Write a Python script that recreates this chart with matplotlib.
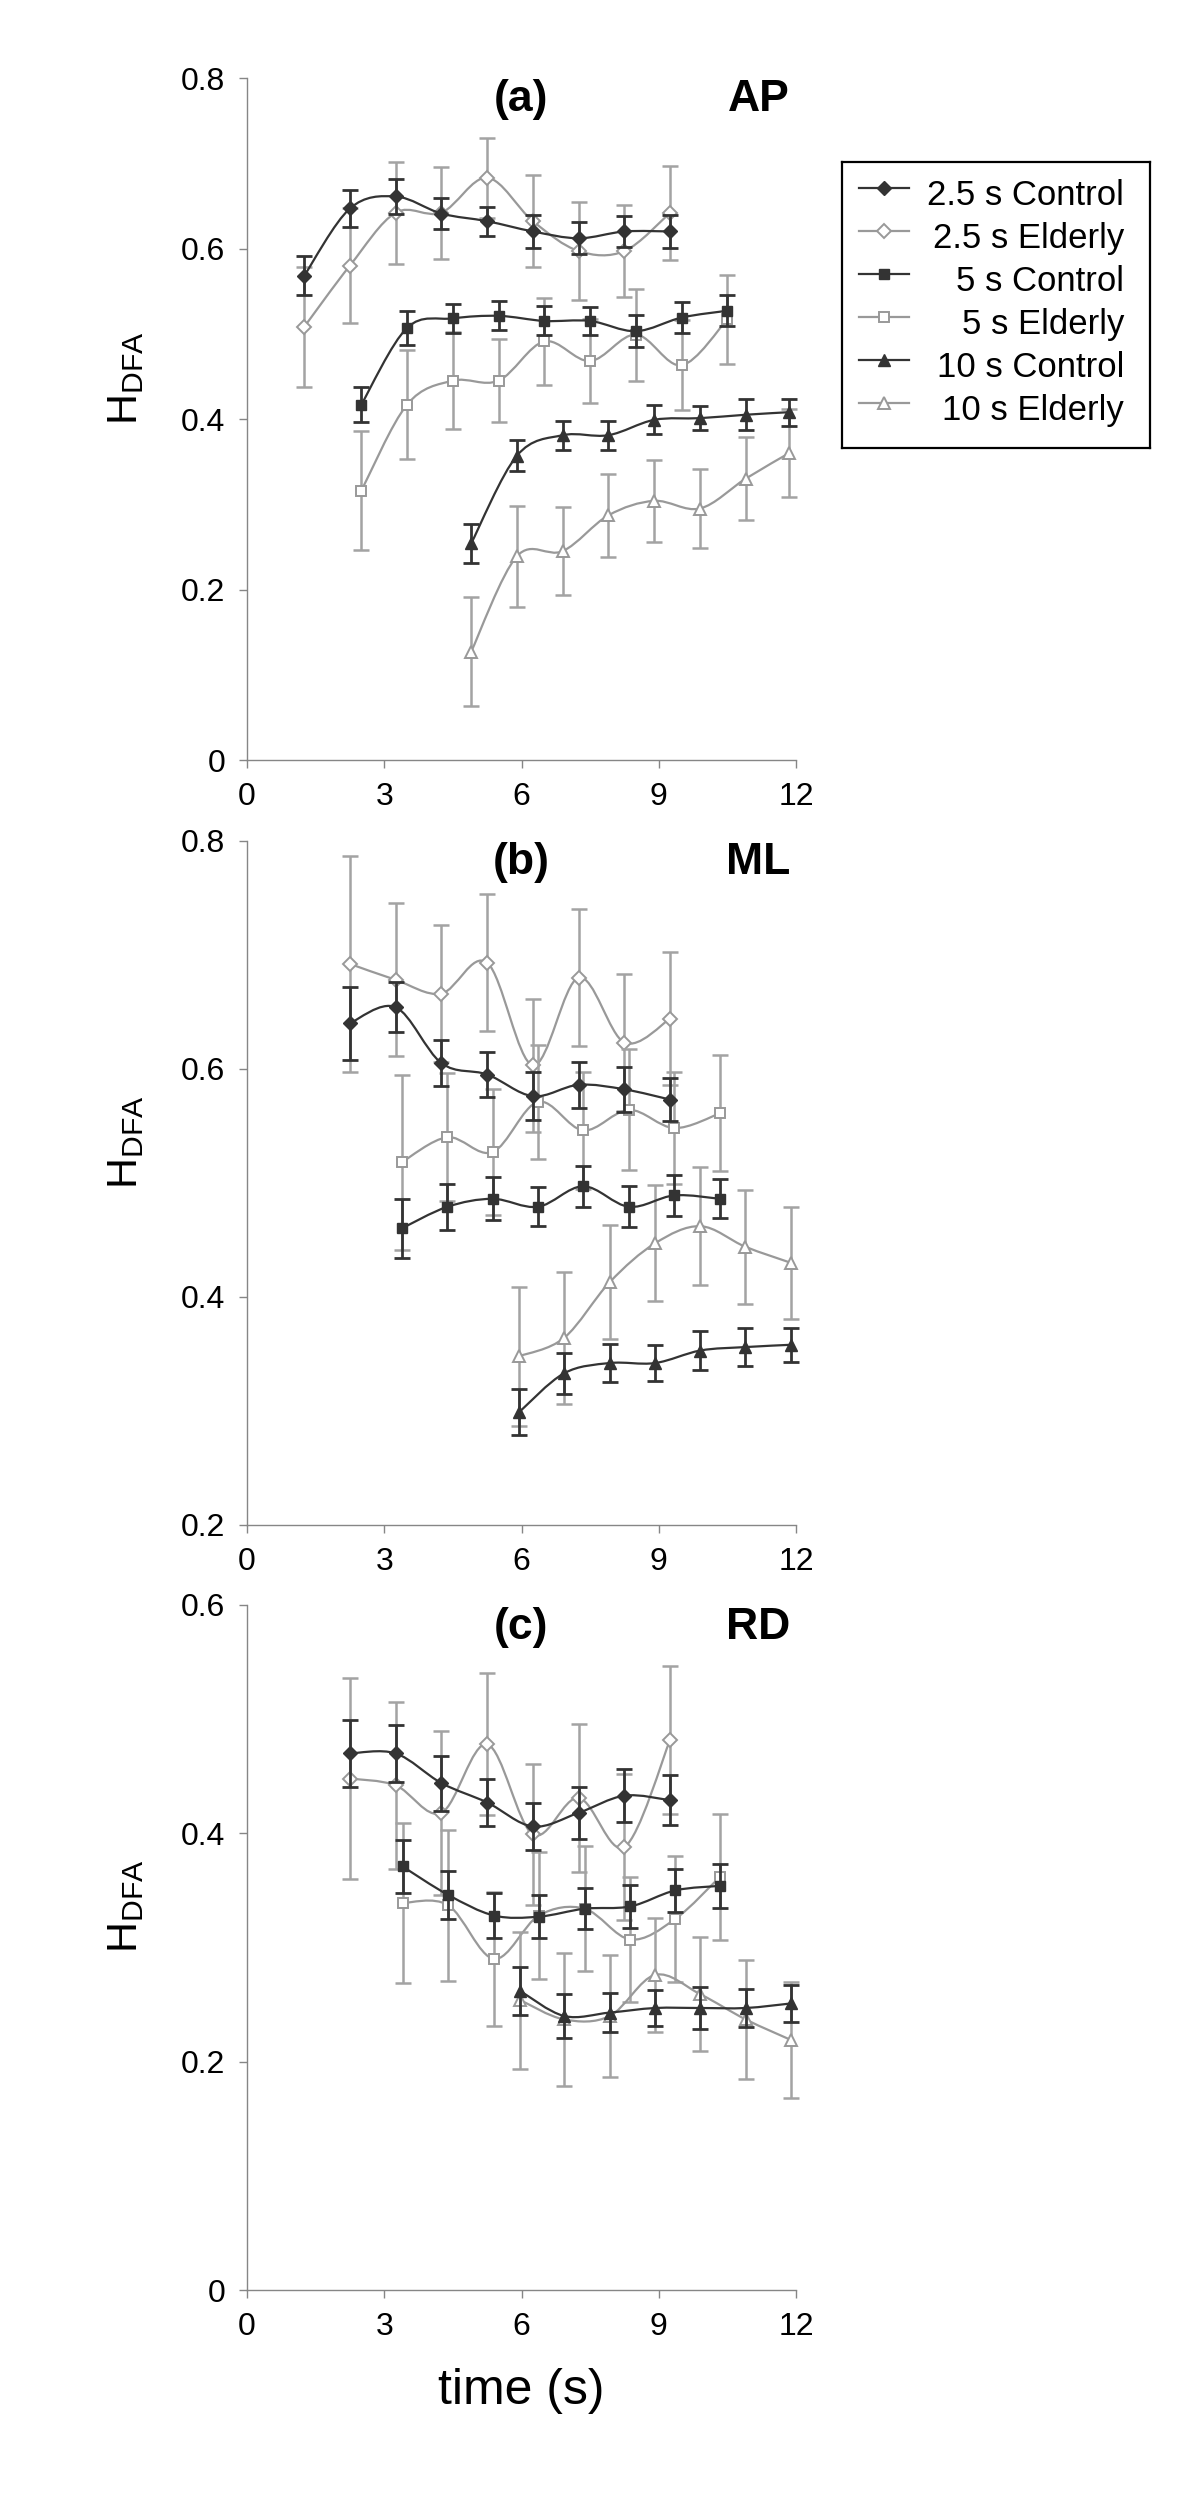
import numpy as np
import matplotlib
matplotlib.use("Agg")
import matplotlib.pyplot as plt
from matplotlib.path import Path
from matplotlib.patches import PathPatch

plt.rcParams['font.family'] = ['Liberation Sans', 'DejaVu Sans']
plt.rcParams['mathtext.fontset'] = 'custom'
plt.rcParams['mathtext.rm'] = 'Liberation Sans'

# ---------------- data ----------------
series_labels = ["2.5 s Control", "2.5 s Elderly", "5 s Control", "5 s Elderly",
                 "10 s Control", "10 s Elderly"]
panel_tags = ["(a)", "(b)", "(c)"]
panel_dirs = ["AP", "ML", "RD"]
x_ticks = [0, 3, 6, 9, 12]
x_ticklabels = ["0", "3", "6", "9", "12"]
a_yticks = [0, 0.2, 0.4, 0.6, 0.8]
a_yticklabels = ["0", "0.2", "0.4", "0.6", "0.8"]
b_yticks = [0.2, 0.4, 0.6, 0.8]
b_yticklabels = ["0.2", "0.4", "0.6", "0.8"]
c_yticks = [0, 0.2, 0.4, 0.6]
c_yticklabels = ["0", "0.2", "0.4", "0.6"]

# Panel (a) AP
a_x25 = [1.25, 2.25, 3.25, 4.25, 5.25, 6.25, 7.25, 8.25, 9.25]
a_c25 = [0.568, 0.647, 0.661, 0.641, 0.632, 0.620, 0.612, 0.620, 0.620]
a_c25_err = [0.023, 0.022, 0.020, 0.018, 0.017, 0.019, 0.019, 0.018, 0.019]
a_e25 = [0.508, 0.580, 0.642, 0.642, 0.683, 0.632, 0.597, 0.597, 0.642]
a_e25_err = [0.070, 0.067, 0.060, 0.054, 0.047, 0.054, 0.057, 0.054, 0.055]
a_x5 = [2.5, 3.5, 4.5, 5.5, 6.5, 7.5, 8.5, 9.5, 10.5]
a_c5 = [0.417, 0.507, 0.518, 0.521, 0.515, 0.515, 0.503, 0.519, 0.527]
a_c5_err = [0.021, 0.020, 0.017, 0.017, 0.017, 0.016, 0.019, 0.018, 0.018]
a_e5 = [0.316, 0.417, 0.445, 0.445, 0.491, 0.468, 0.499, 0.463, 0.517]
a_e5_err = [0.070, 0.064, 0.057, 0.049, 0.051, 0.049, 0.054, 0.053, 0.052]
a_x10 = [4.9, 5.9, 6.9, 7.9, 8.9, 9.9, 10.9, 11.85]
a_c10 = [0.254, 0.357, 0.381, 0.381, 0.399, 0.401, 0.405, 0.408]
a_c10_err = [0.023, 0.018, 0.017, 0.017, 0.017, 0.014, 0.018, 0.016]
a_e10 = [0.127, 0.239, 0.245, 0.287, 0.304, 0.295, 0.330, 0.360]
a_e10_err = [0.064, 0.059, 0.052, 0.049, 0.048, 0.046, 0.049, 0.052]

# Panel (b) ML
b_x25 = [2.25, 3.25, 4.25, 5.25, 6.25, 7.25, 8.25, 9.25]
b_c25 = [0.640, 0.654, 0.605, 0.595, 0.576, 0.586, 0.582, 0.573]
b_c25_err = [0.032, 0.022, 0.020, 0.020, 0.021, 0.020, 0.020, 0.019]
b_e25 = [0.692, 0.678, 0.666, 0.693, 0.603, 0.680, 0.623, 0.644]
b_e25_err = [0.095, 0.067, 0.060, 0.060, 0.058, 0.060, 0.060, 0.058]
b_x5 = [3.38, 4.38, 5.37, 6.36, 7.35, 8.35, 9.34, 10.34]
b_c5 = [0.460, 0.479, 0.486, 0.479, 0.497, 0.479, 0.489, 0.486]
b_c5_err = [0.026, 0.020, 0.019, 0.017, 0.018, 0.018, 0.018, 0.017]
b_e5 = [0.518, 0.540, 0.527, 0.571, 0.546, 0.564, 0.548, 0.561]
b_e5_err = [0.077, 0.056, 0.055, 0.050, 0.051, 0.053, 0.049, 0.051]
b_x10 = [5.95, 6.93, 7.93, 8.92, 9.91, 10.89, 11.88]
b_c10 = [0.299, 0.333, 0.342, 0.342, 0.353, 0.356, 0.358]
b_c10_err = [0.020, 0.018, 0.017, 0.016, 0.017, 0.017, 0.015]
b_e10 = [0.348, 0.364, 0.413, 0.447, 0.462, 0.444, 0.430]
b_e10_err = [0.061, 0.058, 0.050, 0.051, 0.052, 0.050, 0.049]

# Panel (c) RD
c_x25 = [2.25, 3.25, 4.25, 5.25, 6.25, 7.25, 8.25, 9.25]
c_c25 = [0.470, 0.470, 0.444, 0.427, 0.406, 0.418, 0.433, 0.429]
c_c25_err = [0.029, 0.025, 0.024, 0.021, 0.021, 0.023, 0.023, 0.022]
c_e25 = [0.448, 0.442, 0.418, 0.478, 0.399, 0.431, 0.388, 0.482]
c_e25_err = [0.088, 0.073, 0.072, 0.062, 0.062, 0.065, 0.064, 0.065]
c_x5 = [3.4, 4.4, 5.4, 6.38, 7.38, 8.38, 9.36, 10.34]
c_c5 = [0.371, 0.346, 0.328, 0.327, 0.334, 0.336, 0.350, 0.354]
c_c5_err = [0.023, 0.021, 0.020, 0.019, 0.018, 0.019, 0.019, 0.019]
c_e5 = [0.339, 0.337, 0.290, 0.328, 0.334, 0.307, 0.325, 0.362]
c_e5_err = [0.070, 0.066, 0.059, 0.056, 0.055, 0.055, 0.055, 0.055]
c_x10 = [5.97, 6.93, 7.93, 8.92, 9.91, 10.9, 11.89]
c_c10 = [0.262, 0.240, 0.243, 0.247, 0.247, 0.247, 0.251]
c_c10_err = [0.021, 0.019, 0.017, 0.016, 0.018, 0.017, 0.016]
c_e10 = [0.254, 0.237, 0.240, 0.276, 0.259, 0.237, 0.219]
c_e10_err = [0.060, 0.058, 0.053, 0.050, 0.050, 0.052, 0.051]

# ---------------- styles ----------------
DARK = '#333333'
LIGHT = '#999999'
LIGHT_ERR = '#a3a3a3'
SPINE = '#868686'
markers = ['D', 'D', 's', 's', '^', '^']
msizes = [7, 7, 7.5, 7.5, 8.5, 8.5]
is_control = [True, False, True, False, True, False]

panels = [
    dict(ylim=(0, 0.8), yticks=a_yticks, ylabels=a_yticklabels,
         series=[(a_x25, a_c25, a_c25_err), (a_x25, a_e25, a_e25_err),
                 (a_x5, a_c5, a_c5_err), (a_x5, a_e5, a_e5_err),
                 (a_x10, a_c10, a_c10_err), (a_x10, a_e10, a_e10_err)]),
    dict(ylim=(0.2, 0.8), yticks=b_yticks, ylabels=b_yticklabels,
         series=[(b_x25, b_c25, b_c25_err), (b_x25, b_e25, b_e25_err),
                 (b_x5, b_c5, b_c5_err), (b_x5, b_e5, b_e5_err),
                 (b_x10, b_c10, b_c10_err), (b_x10, b_e10, b_e10_err)]),
    dict(ylim=(0, 0.6), yticks=c_yticks, ylabels=c_yticklabels,
         series=[(c_x25, c_c25, c_c25_err), (c_x25, c_e25, c_e25_err),
                 (c_x5, c_c5, c_c5_err), (c_x5, c_e5, c_e5_err),
                 (c_x10, c_c10, c_c10_err), (c_x10, c_e10, c_e10_err)]),
]


def smooth_path(x, y):
    pts = np.column_stack([x, y]).astype(float)
    n = len(pts)
    verts = [pts[0]]
    codes = [Path.MOVETO]
    for i in range(n - 1):
        p0 = pts[i - 1] if i > 0 else pts[i]
        p1 = pts[i]
        p2 = pts[i + 1]
        p3 = pts[i + 2] if i + 2 < n else pts[i + 1]
        verts += [p1 + (p2 - p0) / 6.0, p2 - (p3 - p1) / 6.0, p2]
        codes += [Path.CURVE4] * 3
    return Path(verts, codes)


W, H = 1200, 2500
fig = plt.figure(figsize=(12, 25), dpi=100)
ax_left = 247 / W
ax_w = 549 / W
tops = [78, 840.7, 1605]
bottoms = [760, 1525, 2290]

for k, p in enumerate(panels):
    ax = fig.add_axes([ax_left, 1 - bottoms[k] / H, ax_w, (bottoms[k] - tops[k]) / H])
    order = [1, 3, 5, 0, 2, 4]  # elderly underneath, controls on top
    for rank, i in enumerate(order):
        x, y, e = p['series'][i]
        ctrl = is_control[i]
        col = DARK if ctrl else LIGHT
        z = 2 + rank
        ax.errorbar(x, y, yerr=e, fmt='none', ecolor=DARK if ctrl else LIGHT_ERR,
                    elinewidth=2.0 if ctrl else 1.8, capsize=5.5,
                    capthick=2.0 if ctrl else 1.8, zorder=z, clip_on=False)
        ax.add_patch(PathPatch(smooth_path(x, y), fill=False, edgecolor=col,
                               lw=1.6, zorder=z + 0.1, clip_on=False))
        ax.plot(x, y, ls='none', marker=markers[i], ms=msizes[i],
                mfc=DARK if ctrl else 'white', mec=col,
                mew=1.0 if ctrl else 1.4, zorder=z + 0.2, clip_on=False)
    ax.set_xlim(0, 12)
    ax.set_ylim(*p['ylim'])
    ax.set_xticks(x_ticks)
    ax.set_xticklabels(x_ticklabels)
    ax.set_yticks(p['yticks'])
    ax.set_yticklabels(p['ylabels'])
    for s in ['top', 'right']:
        ax.spines[s].set_visible(False)
    for s in ['left', 'bottom']:
        ax.spines[s].set_color(SPINE)
        ax.spines[s].set_linewidth(1.0)
    ax.tick_params(axis='both', direction='out', length=5.5, width=1.0,
                   color=SPINE, labelsize=23, pad=10, labelcolor='black')
    ax.text(0.5, 0.951, panel_tags[k], transform=ax.transAxes, ha='center',
            va='baseline', fontsize=32, fontweight='bold')
    ax.text(0.989, 0.951, panel_dirs[k], transform=ax.transAxes, ha='right',
            va='baseline', fontsize=32, fontweight='bold')
    ax.text(-0.22, 0.56, r'H$_{\mathregular{DFA}}$', transform=ax.transAxes,
            rotation=90, ha='center', va='center', fontsize=31)
    if k == 2:
        ax.set_xlabel('time (s)', fontsize=36)
        ax.xaxis.set_label_coords(0.5, -0.147)
        ax.xaxis.label.set_va('center')

# ---------------- legend (box with right-aligned labels) ----------------
lx0, ly0, lw_, lh_ = 842, 162, 308, 286
lax = fig.add_axes([lx0 / W, 1 - (ly0 + lh_) / H, lw_ / W, lh_ / H])
lax.set_xlim(0, lw_)
lax.set_ylim(lh_, 0)
lax.set_xticks([])
lax.set_yticks([])
for s in lax.spines.values():
    s.set_color('black')
    s.set_linewidth(1.6)
for i, lab in enumerate(series_labels):
    ry = 25.5 + 43.0 * i
    ctrl = is_control[i]
    col = DARK if ctrl else LIGHT
    lax.plot([17, 67], [ry, ry], color=col, lw=1.6)
    lax.plot([42], [ry], ls='none', marker=markers[i], ms=msizes[i],
             mfc=DARK if ctrl else 'white', mec=col, mew=1.0 if ctrl else 1.4)
    lax.text(282, ry + 17.5, lab, ha='right', va='baseline', fontsize=25)

fig.savefig('out.png', dpi=100)
